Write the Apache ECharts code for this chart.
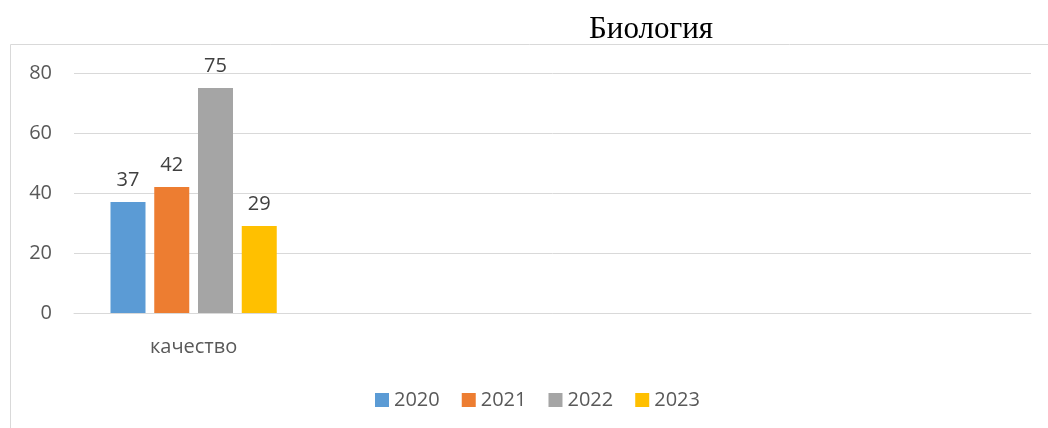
<!DOCTYPE html>
<html>
<head>
<meta charset="utf-8">
<script src="https://cdn.jsdelivr.net/npm/echarts@6/dist/echarts.min.js"></script>
<style>
  html, body { margin: 0; padding: 0; background: #fff; }
  #chart { width: 1048px; height: 428px; }
</style>
</head>
<body>
<div id="chart"></div>
<script>
// data
const categories = ['качество', '', '', '']
const years = ['2020', '2021', '2022', '2023']
const values2020 = [37, null, null, null]
const values2021 = [42, null, null, null]
const values2022 = [75, null, null, null]
const values2023 = [29, null, null, null]
const colors = ['#5b9bd5', '#ed7d31', '#a5a5a5', '#ffc000']

const seriesData = [values2020, values2021, values2022, values2023]
const font = '"Open Sans", "Noto Sans", sans-serif'

let chart = echarts.init(document.getElementById('chart'))
chart.setOption({
  animation: false,
  color: colors,
  title: {
    text: 'Биология',
    left: 584,
    top: 9,
    textStyle: {
      fontFamily: '"Liberation Serif", "DejaVu Serif", serif',
      fontSize: 31,
      fontWeight: 'normal',
      color: '#000'
    }
  },
  graphic: [{
    type: 'rect',
    silent: true,
    z: -1,
    shape: { x: 10.5, y: 44.5, width: 1100, height: 500 },
    style: { fill: 'none', stroke: '#d9d9d9', lineWidth: 1 }
  }],
  legend: {
    left: 370,
    top: 385,
    itemWidth: 14,
    itemHeight: 14,
    itemGap: 22,
    icon: 'rect',
    textStyle: { fontFamily: font, fontSize: 20, color: '#595959' },
    data: years
  },
  grid: { left: 74, right: 17, top: 73, bottom: 115 },
  xAxis: {
    type: 'category',
    data: categories,
    axisLine: { lineStyle: { color: '#d9d9d9' } },
    axisTick: { show: false },
    axisLabel: { fontFamily: font, fontSize: 20, color: '#595959', margin: 24 }
  },
  yAxis: {
    type: 'value',
    min: 0,
    max: 80,
    interval: 20,
    axisLine: { show: false },
    axisTick: { show: false },
    splitLine: { lineStyle: { color: '#d9d9d9' } },
    axisLabel: { fontFamily: font, fontSize: 20, color: '#595959', margin: 22 }
  },
  series: years.map((y, i) => ({
    name: y,
    type: 'bar',
    barWidth: 35,
    barGap: '25%',
    data: seriesData[i],
    label: {
      show: true,
      position: 'top',
      distance: 12,
      fontFamily: font,
      fontSize: 20,
      color: '#404040'
    }
  }))
})
</script>
</body>
</html>
